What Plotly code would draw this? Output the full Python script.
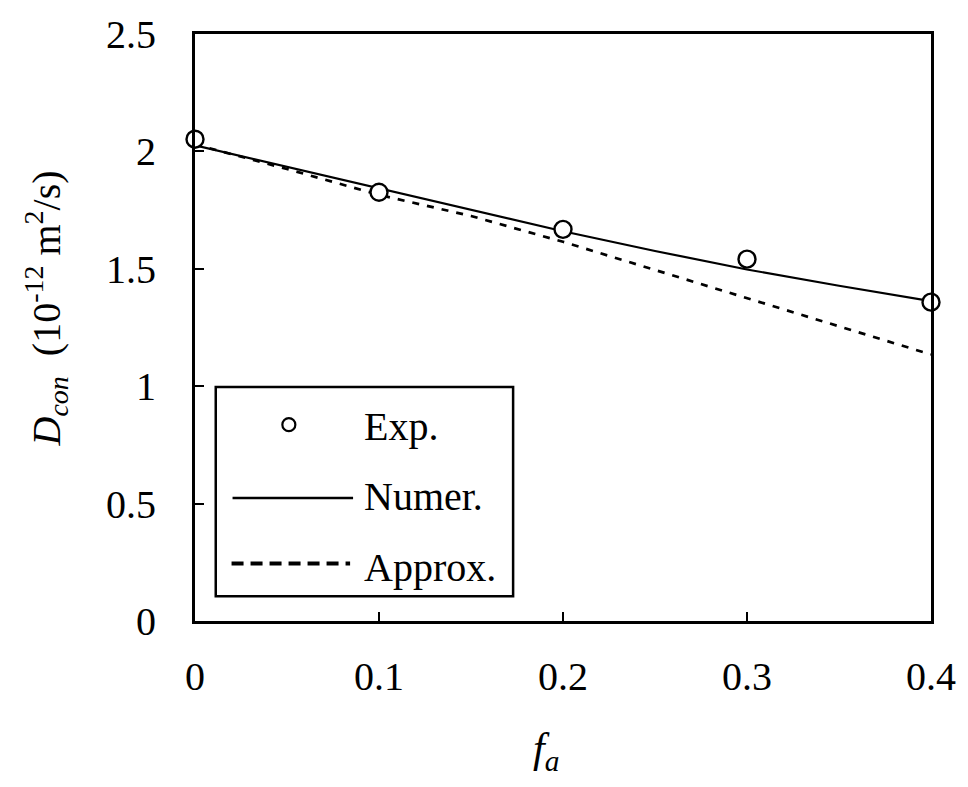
import plotly.graph_objects as go

# Data
exp_x = [0.0, 0.1, 0.2, 0.3, 0.4]
exp_y = [2.052, 1.826, 1.668, 1.541, 1.358]

numer_x = [0.0, 0.05, 0.1, 0.15, 0.2, 0.25, 0.3, 0.35, 0.4]
numer_y = [2.026, 1.935, 1.842, 1.750, 1.660, 1.576, 1.497, 1.428, 1.362]

approx_x = [0.0, 0.05, 0.1, 0.15, 0.2, 0.25, 0.3, 0.35, 0.4]
approx_y = [2.030, 1.925, 1.815, 1.725, 1.615, 1.495, 1.375, 1.255, 1.135]

x_ticks = [0, 0.1, 0.2, 0.3, 0.4]
x_ticklabels = ["0", "0.1", "0.2", "0.3", "0.4"]
y_ticks = [0, 0.5, 1, 1.5, 2, 2.5]
y_ticklabels = ["0", "0.5", "1", "1.5", "2", "2.5"]

FONT = "Liberation Serif"

fig = go.Figure()
fig.add_trace(go.Scatter(x=approx_x, y=approx_y, mode="lines", name="Approx.",
                         line=dict(color="black", width=2.7, dash="7px,8px"),
                         showlegend=False))
fig.add_trace(go.Scatter(x=numer_x, y=numer_y, mode="lines", name="Numer.",
                         line=dict(color="black", width=2.2), showlegend=False))
fig.add_trace(go.Scatter(x=exp_x, y=exp_y, mode="markers", name="Exp.",
                         marker=dict(symbol="circle", size=17, color="white",
                                     line=dict(color="black", width=2.4)),
                         cliponaxis=False, showlegend=False))

L, R, T, B = 195, 28, 29, 166
W, H = 968, 787
pw, ph = W - L - R, H - T - B

def px(x):
    return (x - L) / pw

def py(y):
    return (H - B - y) / ph

shapes = [
    # legend box
    dict(type="rect", xref="paper", yref="paper", x0=px(216), x1=px(517),
         y0=py(596), y1=py(385), line=dict(color="black", width=2.5),
         fillcolor="white", layer="above"),
    # legend solid line
    dict(type="line", xref="paper", yref="paper", x0=px(233), x1=px(355),
         y0=py(497), y1=py(497), line=dict(color="black", width=2.5), layer="above"),
    # legend dashed line
    dict(type="line", xref="paper", yref="paper", x0=px(232), x1=px(352),
         y0=py(563), y1=py(563), line=dict(color="black", width=4, dash="12px,7px"),
         layer="above"),
    # legend circle
    dict(type="circle", xref="paper", yref="paper", xsizemode="pixel", ysizemode="pixel",
         xanchor=px(290), yanchor=py(423), x0=-6.5, x1=6.5, y0=-6.5, y1=6.5,
         line=dict(color="black", width=2.2), fillcolor="white", layer="above"),
]

annotations = [
    dict(text="Exp.", xref="paper", yref="paper", x=px(364), y=py(425),
         xanchor="left", yanchor="middle", showarrow=False,
         font=dict(family=FONT, size=40, color="black")),
    dict(text="Numer.", xref="paper", yref="paper", x=px(364), y=py(495),
         xanchor="left", yanchor="middle", showarrow=False,
         font=dict(family=FONT, size=40, color="black")),
    dict(text="Approx.", xref="paper", yref="paper", x=px(364), y=py(567),
         xanchor="left", yanchor="middle", showarrow=False,
         font=dict(family=FONT, size=40, color="black")),
    dict(text="<i>f</i><sub><i>a</i></sub>", xref="paper", yref="paper",
         x=px(550), y=py(752), xanchor="center", yanchor="middle", showarrow=False,
         font=dict(family=FONT, size=42, color="black")),
    dict(text="<i>D</i><sub><i>con</i></sub>  (10<sup>-12</sup> m<sup>2</sup>/s)",
         xref="paper", yref="paper", x=px(44), y=py(306), textangle=-90,
         xanchor="center", yanchor="middle", showarrow=False,
         font=dict(family=FONT, size=40, color="black")),
]

fig.update_layout(
    width=W, height=H,
    margin=dict(l=L, r=R, t=T, b=B),
    paper_bgcolor="white", plot_bgcolor="white",
    font=dict(family=FONT, size=40, color="black"),
    shapes=shapes, annotations=annotations,
    xaxis=dict(range=[0, 0.4], tickvals=x_ticks, ticktext=x_ticklabels,
               ticks="inside", ticklen=9, tickwidth=2, tickcolor="black",
               showline=True, linecolor="black", linewidth=3, mirror=True,
               showgrid=False, zeroline=False, ticklabelstandoff=18,
               tickfont=dict(family=FONT, size=40, color="black")),
    yaxis=dict(range=[0, 2.5], tickvals=y_ticks, ticktext=y_ticklabels,
               ticks="inside", ticklen=9, tickwidth=2, tickcolor="black",
               showline=True, linecolor="black", linewidth=3, mirror=True,
               showgrid=False, zeroline=False, ticklabelstandoff=28,
               tickfont=dict(family=FONT, size=40, color="black")),
)

fig.write_html("out.html")
